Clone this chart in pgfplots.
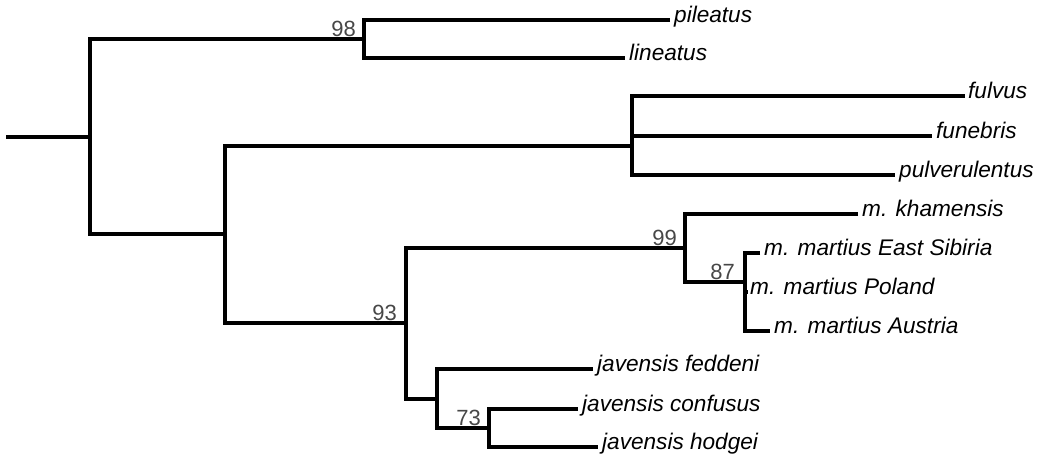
\documentclass[border=0pt]{standalone}
\usepackage{fontspec}
\setmainfont{Liberation Sans}
\usepackage{pgfplots}
\pgfplotsset{compat=1.18}
\tikzset{
  tree/.style={black, line width=3.8bp, line join=miter, line cap=butt, mark=none},
  taxon/.style={anchor=mid west, inner sep=0pt, font=\fontsize{22.6bp}{25bp}\selectfont\itshape},
  supp/.style={anchor=base east, inner sep=0pt, text=black!72, font=\fontsize{22bp}{25bp}\selectfont},
}
\begin{document}
\begin{tikzpicture}
\begin{axis}[
  width=1043bp, height=460bp, scale only axis,
  xmin=0, xmax=1043, ymin=0, ymax=460, y dir=reverse,
  hide axis, clip=false,
]
% root
\addplot[tree] coordinates {(6,137) (90,137)};
% node 90
\addplot[tree] coordinates {(364,39) (90,39) (90,234) (225,234)};
% node 364
\addplot[tree] coordinates {(670,20) (364,20) (364,58) (625,58)};
% node 225
\addplot[tree] coordinates {(632,146) (225,146) (225,323) (406,323)};
% node 632
\addplot[tree] coordinates {(965,96) (632,96) (632,175) (895,175)};
\addplot[tree] coordinates {(632,136) (932,136)};
% node 406
\addplot[tree] coordinates {(685,248) (406,248) (406,399) (437,399)};
% node 685
\addplot[tree] coordinates {(858,214) (685,214) (685,282) (745,282)};
% node 745
\addplot[tree] coordinates {(760,253) (745,253) (745,331) (770,331)};
\addplot[tree] coordinates {(745,292) (748,292)};
% node 437
\addplot[tree] coordinates {(593,369) (437,369) (437,428) (489,428)};
% node 489
\addplot[tree] coordinates {(578,409) (489,409) (489,447) (598,447)};

% taxa
\node[taxon] at (axis cs:674,20) {pileatus};
\node[taxon] at (axis cs:629,58) {lineatus};
\node[taxon] at (axis cs:968,96) {fulvus};
\node[taxon] at (axis cs:936,136) {funebris};
\node[taxon] at (axis cs:899,175) {pulverulentus};
\node[taxon] at (axis cs:862,214) {m. khamensis};
\node[taxon] at (axis cs:764,253) {m. martius East Sibiria};
\node[taxon] at (axis cs:750,292) {m. martius Poland};
\node[taxon] at (axis cs:774,331) {m. martius Austria};
\node[taxon] at (axis cs:597,369) {javensis feddeni};
\node[taxon] at (axis cs:582,409) {javensis confusus};
\node[taxon] at (axis cs:602,447) {javensis hodgei};

% support values
\node[supp] at (axis cs:356,37) {98};
\node[supp] at (axis cs:677,246) {99};
\node[supp] at (axis cs:735,280) {87};
\node[supp] at (axis cs:397,321) {93};
\node[supp] at (axis cs:481,426) {73};
\end{axis}
\pgfresetboundingbox
\path (current axis.south west) rectangle (current axis.north east);
\end{tikzpicture}
\end{document}
